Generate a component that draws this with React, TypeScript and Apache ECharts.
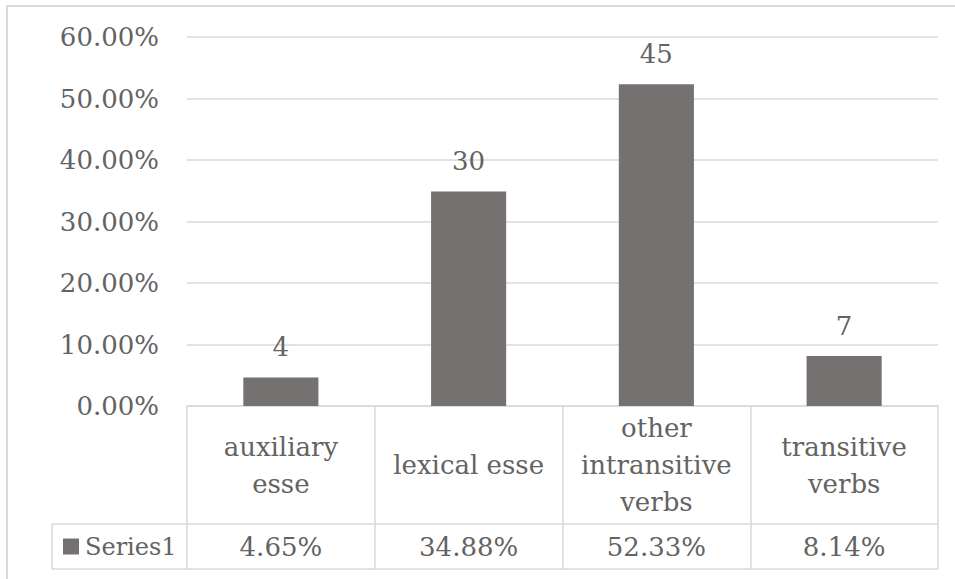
import React, { useEffect, useRef } from "react";
import * as echarts from "echarts";

const categories = ["auxiliary\nesse", "lexical esse", "other\nintransitive\nverbs", "transitive\nverbs"];
const percentages = [4.65, 34.88, 52.33, 8.14];
const counts = [4, 30, 45, 7];
const seriesName = "Series1";
const yTicks = { min: 0, max: 60, interval: 10 };

const W = 955;
const H = 579;
const TEXT = "#636363";
const LINE = "#d9d9d9";
const FONT = "DejaVu Serif";
const FS = 26;

const GRID = { left: 187, right: 17, top: 37, bottom: 173 };
const TABLE_ROW1_BOTTOM = 524;
const TABLE_ROW2_BOTTOM = 569;
const LEGEND_LEFT = 52;

export default function App() {
  const ref = useRef<HTMLDivElement>(null);
  useEffect(() => {
    if (!ref.current) return;
    const chart = echarts.init(ref.current, undefined, { renderer: "svg" });
    const plotRight = W - GRID.right;
    const axisY = H - GRID.bottom;
    chart.setOption({
      animation: false,
      textStyle: { fontFamily: FONT },
      grid: { ...GRID, containLabel: false },
      legend: {
        data: [seriesName],
        left: LEGEND_LEFT + 6,
        top: (TABLE_ROW1_BOTTOM + TABLE_ROW2_BOTTOM) / 2 - 17,
        icon: "rect",
        itemWidth: 16,
        itemHeight: 16,
        selectedMode: false,
        textStyle: { fontSize: 24, color: TEXT, fontFamily: FONT, padding: [0, 0, 0, 1] },
      },
      xAxis: [
        {
          type: "category",
          data: categories,
          position: "bottom",
          axisLine: { show: true, lineStyle: { color: LINE, width: 1.5 } },
          axisTick: { show: true, length: TABLE_ROW2_BOTTOM - axisY, interval: 0, lineStyle: { color: LINE, width: 1.5 } },
          axisLabel: {
            interval: 0,
            margin: (TABLE_ROW1_BOTTOM - axisY) / 2,
            verticalAlign: "middle",
            lineHeight: 37,
            fontSize: FS,
            color: TEXT,
            fontFamily: FONT,
          },
          splitLine: { show: false },
        },
        {
          type: "category",
          data: percentages,
          position: "bottom",
          axisLine: { show: false },
          axisTick: { show: false },
          axisLabel: {
            interval: 0,
            margin: (TABLE_ROW1_BOTTOM + TABLE_ROW2_BOTTOM) / 2 - axisY,
            verticalAlign: "middle",
            fontSize: FS,
            color: TEXT,
            fontFamily: FONT,
            formatter: (v: string) => `${Number(v).toFixed(2)}%`,
          },
        },
      ],
      yAxis: {
        type: "value",
        min: yTicks.min,
        max: yTicks.max,
        interval: yTicks.interval,
        axisLine: { show: false },
        axisTick: { show: false },
        splitLine: { show: true, lineStyle: { color: LINE, width: 1.5 } },
        axisLabel: {
          margin: 28,
          fontSize: FS,
          color: TEXT,
          fontFamily: FONT,
          formatter: (v: number) => `${v.toFixed(2)}%`,
        },
      },
      series: [
        {
          name: seriesName,
          type: "bar",
          xAxisIndex: 0,
          data: percentages,
          barWidth: "40%",
          itemStyle: { color: "#767171" },
          label: {
            show: true,
            position: "top",
            distance: 17,
            fontSize: FS,
            color: TEXT,
            fontFamily: FONT,
            formatter: (p: any) => String(counts[p.dataIndex]),
          },
        },
      ],
      graphic: [
        {
          type: "rect",
          silent: true,
          shape: { x: 7, y: 6, width: W + 20, height: H + 20 },
          style: { fill: "none", stroke: LINE, lineWidth: 2 },
        },
        {
          type: "line",
          silent: true,
          shape: { x1: LEGEND_LEFT, y1: TABLE_ROW1_BOTTOM, x2: plotRight, y2: TABLE_ROW1_BOTTOM },
          style: { stroke: LINE, lineWidth: 1.5 },
        },
        {
          type: "line",
          silent: true,
          shape: { x1: LEGEND_LEFT, y1: TABLE_ROW2_BOTTOM, x2: plotRight, y2: TABLE_ROW2_BOTTOM },
          style: { stroke: LINE, lineWidth: 1.5 },
        },
        {
          type: "line",
          silent: true,
          shape: { x1: LEGEND_LEFT, y1: TABLE_ROW1_BOTTOM, x2: LEGEND_LEFT, y2: TABLE_ROW2_BOTTOM },
          style: { stroke: LINE, lineWidth: 1.5 },
        },
      ],
    });
    return () => chart.dispose();
  }, []);
  return (
    <div
      ref={ref}
      style={{ position: "absolute", left: 0, top: 0, width: W, height: H, background: "#fff" }}
    />
  );
}
